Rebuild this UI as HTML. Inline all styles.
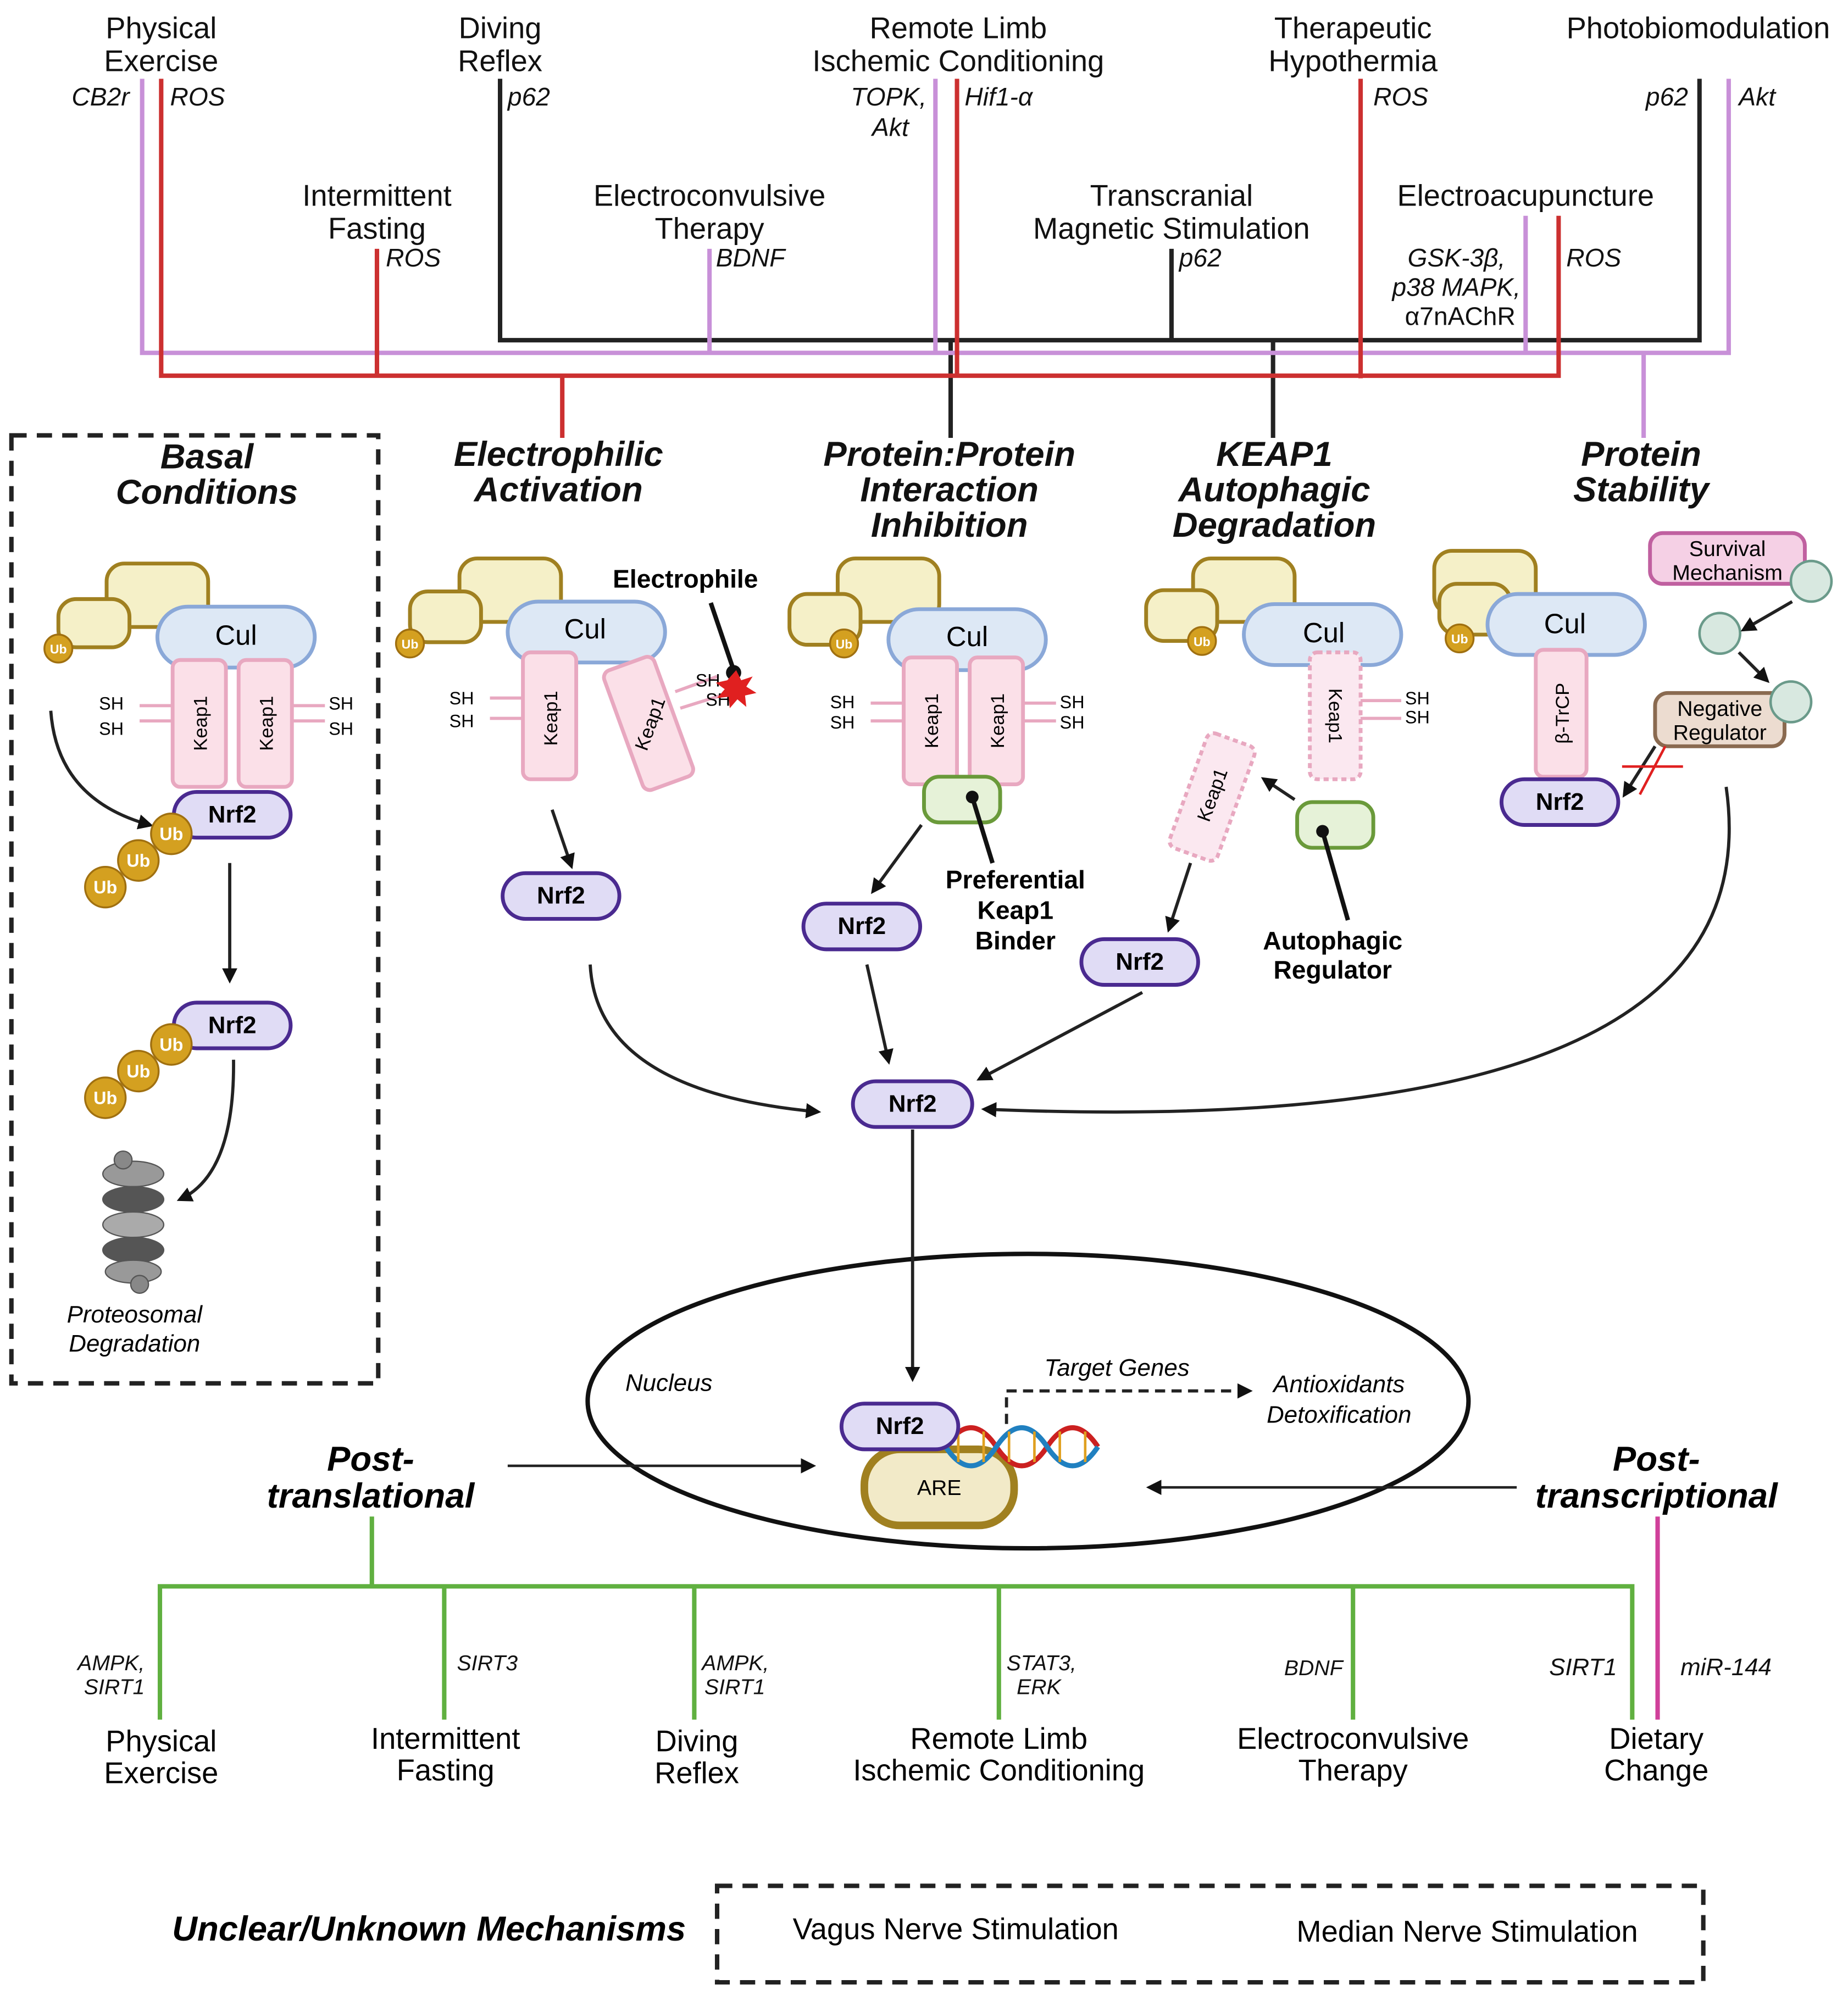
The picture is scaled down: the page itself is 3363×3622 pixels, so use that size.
<!DOCTYPE html>
<html><head><meta charset="utf-8"><style>html,body{margin:0;padding:0;background:#fff}svg{display:block}text{font-family:"Liberation Sans",Arial,sans-serif}</style></head><body>
<svg width="3363" height="3622" viewBox="0 0 1456 1568" xmlns="http://www.w3.org/2000/svg">
<defs>
<marker id="ar" markerWidth="12" markerHeight="12" refX="9" refY="6" orient="auto" markerUnits="userSpaceOnUse"><path d="M0,0 L12,6 L0,12 z" fill="#111"/></marker>
<g id="ub"><circle r="16" fill="#d4a020" stroke="#a07010" stroke-width="1.5"/><text y="5" text-anchor="middle" font-size="14" font-weight="bold" fill="#fff">Ub</text></g>
<g id="ubs"><circle r="11" fill="#d4a020" stroke="#a07010" stroke-width="1.5"/><text y="4" text-anchor="middle" font-size="10" font-weight="bold" fill="#fff">Ub</text></g>
</defs>
<rect width="1456" height="1568" fill="#fff"/>
<g font-size="23.5" text-anchor="middle" fill="#111">
<text x="127" y="30">Physical</text><text x="127" y="56">Exercise</text>
<text x="394" y="30">Diving</text><text x="394" y="56">Reflex</text>
<text x="755" y="30">Remote Limb</text><text x="755" y="56">Ischemic Conditioning</text>
<text x="1066" y="30">Therapeutic</text><text x="1066" y="56">Hypothermia</text>
<text x="1338" y="30">Photobiomodulation</text>
<text x="297" y="162">Intermittent</text><text x="297" y="188">Fasting</text>
<text x="559" y="162">Electroconvulsive</text><text x="559" y="188">Therapy</text>
<text x="923" y="162">Transcranial</text><text x="923" y="188">Magnetic Stimulation</text>
<text x="1202" y="162">Electroacupuncture</text>
</g>
<g font-size="20" font-style="italic" fill="#111">
<text x="102" y="83" text-anchor="end">CB2r</text><text x="134" y="83">ROS</text>
<text x="400" y="83">p62</text>
<text x="730" y="83" text-anchor="end">TOPK,</text><text x="716" y="107" text-anchor="end">Akt</text><text x="760" y="83">Hif1-α</text>
<text x="1082" y="83">ROS</text>
<text x="1330" y="83" text-anchor="end">p62</text><text x="1370" y="83">Akt</text>
<text x="304" y="210">ROS</text><text x="564" y="210">BDNF</text><text x="929" y="210">p62</text>
<text x="1186" y="210" text-anchor="end">GSK-3β,</text><text x="1198" y="233" text-anchor="end">p38 MAPK,</text><text x="1194" y="256" text-anchor="end" font-style="normal">α7nAChR</text>
<text x="1234" y="210">ROS</text>
</g>
<g fill="none" stroke-width="3.5">
<g stroke="#222"><path d="M394 62V268H1339V62M923 196V268M749 268V345M1003 268V345"/></g>
<g stroke="#c890d8"><path d="M112 62V278H1362V62M737 62V278M559 196V278M1202 170V278M1295 278V345"/></g>
<g stroke="#cc3030"><path d="M127 62V296H1228V170M754 62V296M1072 62V298M297 196V296M443 296V345"/></g>
</g>
<g font-size="27.5" font-weight="bold" font-style="italic" text-anchor="middle" fill="#111">
<text x="440" y="367">Electrophilic</text><text x="440" y="395">Activation</text>
<text x="748" y="367">Protein:Protein</text><text x="748" y="395">Interaction</text><text x="748" y="423">Inhibition</text>
<text x="1004" y="367">KEAP1</text><text x="1004" y="395">Autophagic</text><text x="1004" y="423">Degradation</text>
<text x="1293" y="367">Protein</text><text x="1293" y="395">Stability</text>
<text x="163" y="369">Basal</text><text x="163" y="397">Conditions</text>
</g>
<rect x="9" y="343" width="289" height="747" fill="none" stroke="#222" stroke-width="3.5" stroke-dasharray="12,8"/>
<g stroke-width="3">
<rect x="84" y="444" width="80" height="50" rx="14" fill="#f5f0c8" stroke="#a08020"/>
<rect x="46" y="472" width="56" height="38" rx="14" fill="#f5f0c8" stroke="#a08020"/>
<rect x="124" y="478" width="124" height="48" rx="24" fill="#dde8f5" stroke="#8aa8d8"/>
<rect x="136" y="520" width="42" height="100" rx="6" fill="#fbe0e8" stroke="#e8a8c0"/>
<rect x="188" y="520" width="42" height="100" rx="6" fill="#fbe0e8" stroke="#e8a8c0"/>
</g>
<g stroke="#e8a8c0" stroke-width="2.5"><path d="M110 556H136M110 568H136M230 556H256M230 568H256"/></g>
<use href="#ubs" x="46" y="511"/>
<text x="186" y="508" font-size="22" text-anchor="middle">Cul</text>
<text transform="translate(163,570) rotate(-90)" font-size="15" text-anchor="middle">Keap1</text>
<text transform="translate(215,570) rotate(-90)" font-size="15" text-anchor="middle">Keap1</text>
<g font-size="14"><text x="78" y="559">SH</text><text x="78" y="579">SH</text><text x="259" y="559">SH</text><text x="259" y="579">SH</text></g>
<path d="M40 560 Q45 630 118 650" fill="none" stroke="#222" stroke-width="2.5" marker-end="url(#ar)"/>
<rect x="137" y="624" width="92" height="36" rx="18" fill="#e0dcf5" stroke="#4a2a90" stroke-width="3"/>
<text x="183" y="648" font-size="19" font-weight="bold" text-anchor="middle">Nrf2</text>
<use href="#ub" x="135" y="657"/><use href="#ub" x="109" y="678"/><use href="#ub" x="83" y="699"/>
<path d="M181 680V772" stroke="#222" stroke-width="2.5" marker-end="url(#ar)"/>
<rect x="137" y="790" width="92" height="36" rx="18" fill="#e0dcf5" stroke="#4a2a90" stroke-width="3"/>
<text x="183" y="814" font-size="19" font-weight="bold" text-anchor="middle">Nrf2</text>
<use href="#ub" x="135" y="823"/><use href="#ub" x="109" y="844"/><use href="#ub" x="83" y="865"/>
<path d="M184 835 Q185 925 142 945" fill="none" stroke="#222" stroke-width="2.5" marker-end="url(#ar)"/>
<g fill="#888" stroke="#555" stroke-width="1">
<ellipse cx="105" cy="925" rx="24" ry="10" fill="#999"/><ellipse cx="105" cy="945" rx="24" ry="10" fill="#555"/><ellipse cx="105" cy="965" rx="24" ry="10" fill="#aaa"/><ellipse cx="105" cy="985" rx="24" ry="10" fill="#555"/><ellipse cx="105" cy="1002" rx="22" ry="9" fill="#999"/>
<circle cx="97" cy="914" r="7"/><circle cx="110" cy="1012" r="7"/>
</g>
<text x="106" y="1042" font-size="19" font-style="italic" text-anchor="middle">Proteosomal</text>
<text x="106" y="1065" font-size="19" font-style="italic" text-anchor="middle">Degradation</text>
<g stroke-width="3">
<rect x="362" y="440" width="80" height="50" rx="14" fill="#f5f0c8" stroke="#a08020"/>
<rect x="323" y="466" width="56" height="40" rx="14" fill="#f5f0c8" stroke="#a08020"/>
<rect x="400" y="474" width="124" height="48" rx="24" fill="#dde8f5" stroke="#8aa8d8"/>
<rect x="412" y="514" width="42" height="100" rx="6" fill="#fbe0e8" stroke="#e8a8c0"/>
<rect x="490" y="520" width="42" height="100" rx="6" fill="#fbe0e8" stroke="#e8a8c0" transform="rotate(-20 511 570)"/>
</g>
<g stroke="#e8a8c0" stroke-width="2.5"><path d="M386 550H412M386 566H412M532 545L565 533M536 558L568 548"/></g>
<use href="#ubs" x="323" y="507"/>
<text x="461" y="503" font-size="22" text-anchor="middle">Cul</text>
<text transform="translate(439,566) rotate(-90)" font-size="15" text-anchor="middle">Keap1</text>
<text transform="translate(517,572) rotate(-70)" font-size="15" text-anchor="middle">Keap1</text>
<g font-size="14"><text x="354" y="555">SH</text><text x="354" y="573">SH</text><text x="548" y="541">SH</text><text x="556" y="556">SH</text></g>
<text x="540" y="463" font-size="20" font-weight="bold" text-anchor="middle">Electrophile</text>
<path d="M560 475L578 528" stroke="#111" stroke-width="3.5"/>
<circle cx="578" cy="530" r="6" fill="#111"/>
<path d="M580 528l4 8 9-3-5 8 8 5-9 2 1 9-7-6-6 7-1-9-9 1 6-7-7-5 9-2z" fill="#e02020"/>
<path d="M435 638L450 682" stroke="#222" stroke-width="2.5" marker-end="url(#ar)"/>
<rect x="396" y="688" width="92" height="36" rx="18" fill="#e0dcf5" stroke="#4a2a90" stroke-width="3"/>
<text x="442" y="712" font-size="19" font-weight="bold" text-anchor="middle">Nrf2</text>
<g stroke-width="3">
<rect x="660" y="440" width="80" height="50" rx="14" fill="#f5f0c8" stroke="#a08020"/>
<rect x="622" y="468" width="56" height="40" rx="14" fill="#f5f0c8" stroke="#a08020"/>
<rect x="700" y="480" width="124" height="48" rx="24" fill="#dde8f5" stroke="#8aa8d8"/>
<rect x="712" y="518" width="42" height="100" rx="6" fill="#fbe0e8" stroke="#e8a8c0"/>
<rect x="764" y="518" width="42" height="100" rx="6" fill="#fbe0e8" stroke="#e8a8c0"/>
<rect x="728" y="612" width="60" height="36" rx="12" fill="#e6f2d8" stroke="#6a9a3a"/>
</g>
<g stroke="#e8a8c0" stroke-width="2.5"><path d="M686 554H712M686 568H712M806 554H832M806 568H832"/></g>
<use href="#ubs" x="665" y="507"/>
<text x="762" y="509" font-size="22" text-anchor="middle">Cul</text>
<text transform="translate(739,568) rotate(-90)" font-size="15" text-anchor="middle">Keap1</text>
<text transform="translate(791,568) rotate(-90)" font-size="15" text-anchor="middle">Keap1</text>
<g font-size="14"><text x="654" y="558">SH</text><text x="654" y="574">SH</text><text x="835" y="558">SH</text><text x="835" y="574">SH</text></g>
<circle cx="766" cy="628" r="5" fill="#111"/><path d="M766 628L782 680" stroke="#111" stroke-width="3.5"/>
<g font-size="20" font-weight="bold" text-anchor="middle"><text x="800" y="700">Preferential</text><text x="800" y="724">Keap1</text><text x="800" y="748">Binder</text></g>
<path d="M726 650L688 702" stroke="#222" stroke-width="2.5" marker-end="url(#ar)"/>
<rect x="633" y="712" width="92" height="36" rx="18" fill="#e0dcf5" stroke="#4a2a90" stroke-width="3"/>
<text x="679" y="736" font-size="19" font-weight="bold" text-anchor="middle">Nrf2</text>
<g stroke-width="3">
<rect x="940" y="440" width="80" height="50" rx="14" fill="#f5f0c8" stroke="#a08020"/>
<rect x="903" y="465" width="56" height="40" rx="14" fill="#f5f0c8" stroke="#a08020"/>
<rect x="980" y="476" width="124" height="48" rx="24" fill="#dde8f5" stroke="#8aa8d8"/>
<rect x="1032" y="514" width="40" height="100" rx="6" fill="#fbe8f0" stroke="#e8a8c0" stroke-dasharray="4,3"/>
<rect x="935" y="580" width="40" height="96" rx="6" fill="#fbe8f0" stroke="#e8a8c0" stroke-dasharray="4,3" transform="rotate(20 955 628)"/>
<rect x="1022" y="632" width="60" height="36" rx="12" fill="#e6f2d8" stroke="#6a9a3a"/>
</g>
<g stroke="#e8a8c0" stroke-width="2.5"><path d="M1072 552H1104M1072 566H1104"/></g>
<use href="#ubs" x="947" y="505"/>
<text x="1043" y="506" font-size="22" text-anchor="middle">Cul</text>
<text transform="translate(1047,564) rotate(90)" font-size="15" text-anchor="middle">Keap1</text>
<text transform="translate(960,628) rotate(-70)" font-size="15" text-anchor="middle">Keap1</text>
<g font-size="14"><text x="1107" y="555">SH</text><text x="1107" y="570">SH</text></g>
<circle cx="1042" cy="655" r="5" fill="#111"/><path d="M1042 655L1062 725" stroke="#111" stroke-width="3.5"/>
<g font-size="20" font-weight="bold" text-anchor="middle"><text x="1050" y="748">Autophagic</text><text x="1050" y="771">Regulator</text></g>
<path d="M1020 630L996 614" stroke="#222" stroke-width="2.5" marker-end="url(#ar)"/>
<path d="M938 680L921 732" stroke="#222" stroke-width="2.5" marker-end="url(#ar)"/>
<rect x="852" y="740" width="92" height="36" rx="18" fill="#e0dcf5" stroke="#4a2a90" stroke-width="3"/>
<text x="898" y="764" font-size="19" font-weight="bold" text-anchor="middle">Nrf2</text>
<g stroke-width="3">
<rect x="1130" y="434" width="80" height="50" rx="14" fill="#f5f0c8" stroke="#a08020"/>
<rect x="1134" y="460" width="56" height="40" rx="14" fill="#f5f0c8" stroke="#a08020"/>
<rect x="1172" y="468" width="124" height="48" rx="24" fill="#dde8f5" stroke="#8aa8d8"/>
<rect x="1210" y="512" width="40" height="100" rx="6" fill="#fbe0e8" stroke="#e8a8c0"/>
<rect x="1300" y="420" width="122" height="40" rx="10" fill="#f5d0e5" stroke="#c060a0"/>
<rect x="1304" y="546" width="102" height="42" rx="10" fill="#ecdcd0" stroke="#8a6a50"/>
</g>
<use href="#ubs" x="1150" y="503"/>
<text x="1233" y="499" font-size="22" text-anchor="middle">Cul</text>
<text transform="translate(1236,562) rotate(-90)" font-size="15" text-anchor="middle">β-TrCP</text>
<g font-size="17" text-anchor="middle"><text x="1361" y="438">Survival</text><text x="1361" y="457">Mechanism</text><text x="1355" y="564">Negative</text><text x="1355" y="583">Regulator</text></g>
<g fill="#d8e8e0" stroke="#6a9a8a" stroke-width="2"><circle cx="1427" cy="458" r="16"/><circle cx="1355" cy="499" r="16"/><circle cx="1411" cy="553" r="16"/></g>
<path d="M1412 474L1374 496" stroke="#222" stroke-width="2.5" marker-end="url(#ar)"/>
<path d="M1370 514L1392 536" stroke="#222" stroke-width="2.5" marker-end="url(#ar)"/>
<path d="M1304 588L1280 626" stroke="#222" stroke-width="2.5" marker-end="url(#ar)"/>
<path d="M1278 604H1326M1312 588L1292 626" stroke="#e02020" stroke-width="2"/>
<rect x="1183" y="614" width="92" height="36" rx="18" fill="#e0dcf5" stroke="#4a2a90" stroke-width="3"/>
<text x="1229" y="638" font-size="19" font-weight="bold" text-anchor="middle">Nrf2</text>
<g fill="none" stroke="#222" stroke-width="2.5">
<path d="M465 760 Q470 860 644 876" marker-end="url(#ar)"/>
<path d="M683 760L700 836" marker-end="url(#ar)"/>
<path d="M900 782L772 850" marker-end="url(#ar)"/>
<path d="M1360 620 Q1400 900 776 874" marker-end="url(#ar)"/>
</g>
<rect x="672" y="852" width="94" height="36" rx="18" fill="#e0dcf5" stroke="#4a2a90" stroke-width="3"/>
<text x="719" y="876" font-size="19" font-weight="bold" text-anchor="middle">Nrf2</text>
<ellipse cx="810" cy="1104" rx="347" ry="116" fill="none" stroke="#111" stroke-width="3.5"/>
<path d="M719 890V1086" stroke="#222" stroke-width="2.5" marker-end="url(#ar)"/>
<text x="527" y="1096" font-size="19" font-style="italic" text-anchor="middle">Nucleus</text>
<text x="880" y="1084" font-size="19" font-style="italic" text-anchor="middle">Target Genes</text>
<path d="M793 1122V1096H984" fill="none" stroke="#222" stroke-width="2.5" stroke-dasharray="8,5" marker-end="url(#ar)"/>
<g font-size="19" font-style="italic" text-anchor="middle"><text x="1055" y="1097">Antioxidants</text><text x="1055" y="1121">Detoxification</text></g>
<rect x="681" y="1142" width="118" height="60" rx="28" fill="#f2eac8" stroke="#a08020" stroke-width="6"/>
<text x="740" y="1178" font-size="17" text-anchor="middle">ARE</text>
<g fill="none" stroke-width="4">
<path d="M745 1140 Q765 1110 785 1140 T825 1140 T865 1140" stroke="#cc2020"/>
<path d="M745 1140 Q765 1170 785 1140 T825 1140 T865 1140" stroke="#2080c0"/>
<path d="M755 1128V1152M775 1128V1152M795 1128V1152M815 1128V1152M835 1128V1152M855 1128V1152" stroke="#e0a020" stroke-width="2"/>
</g>
<rect x="663" y="1106" width="92" height="36" rx="18" fill="#e0dcf5" stroke="#4a2a90" stroke-width="3"/>
<text x="709" y="1130" font-size="19" font-weight="bold" text-anchor="middle">Nrf2</text>
<g font-size="27.5" font-weight="bold" font-style="italic" text-anchor="middle"><text x="292" y="1159">Post-</text><text x="292" y="1188">translational</text><text x="1305" y="1159">Post-</text><text x="1305" y="1188">transcriptional</text></g>
<path d="M400 1155H640" stroke="#222" stroke-width="2" marker-end="url(#ar)"/>
<path d="M1195 1172H906" stroke="#222" stroke-width="2" marker-end="url(#ar)"/>
<g fill="none" stroke="#60b040" stroke-width="3.5"><path d="M293 1195V1250M126 1355V1250H1286V1355M350 1250V1355M547 1250V1355M787 1250V1355M1066 1250V1355"/></g>
<path d="M1306 1195V1355" stroke="#d0409a" stroke-width="3.5"/>
<g font-size="17" font-style="italic" fill="#111">
<text x="114" y="1316" text-anchor="end">AMPK,</text><text x="114" y="1335" text-anchor="end">SIRT1</text>
<text x="360" y="1316">SIRT3</text>
<text x="553" y="1316">AMPK,</text><text x="555" y="1335">SIRT1</text>
<text x="793" y="1316">STAT3,</text><text x="801" y="1335">ERK</text>
<text x="1058" y="1320" text-anchor="end">BDNF</text>
<text x="1274" y="1320" text-anchor="end" font-size="19">SIRT1</text>
<text x="1324" y="1320" font-size="19">miR-144</text>
</g>
<g font-size="23.5" text-anchor="middle">
<text x="127" y="1380">Physical</text><text x="127" y="1405">Exercise</text>
<text x="351" y="1378">Intermittent</text><text x="351" y="1403">Fasting</text>
<text x="549" y="1380">Diving</text><text x="549" y="1405">Reflex</text>
<text x="787" y="1378">Remote Limb</text><text x="787" y="1403">Ischemic Conditioning</text>
<text x="1066" y="1378">Electroconvulsive</text><text x="1066" y="1403">Therapy</text>
<text x="1305" y="1378">Dietary</text><text x="1305" y="1403">Change</text>
</g>
<text x="338" y="1529" font-size="27.5" font-weight="bold" font-style="italic" text-anchor="middle">Unclear/Unknown Mechanisms</text>
<rect x="565" y="1486" width="777" height="76" fill="none" stroke="#222" stroke-width="3.5" stroke-dasharray="12,8"/>
<text x="753" y="1528" font-size="23.5" text-anchor="middle">Vagus Nerve Stimulation</text>
<text x="1156" y="1530" font-size="23.5" text-anchor="middle">Median Nerve Stimulation</text>
</svg>
</body></html>
